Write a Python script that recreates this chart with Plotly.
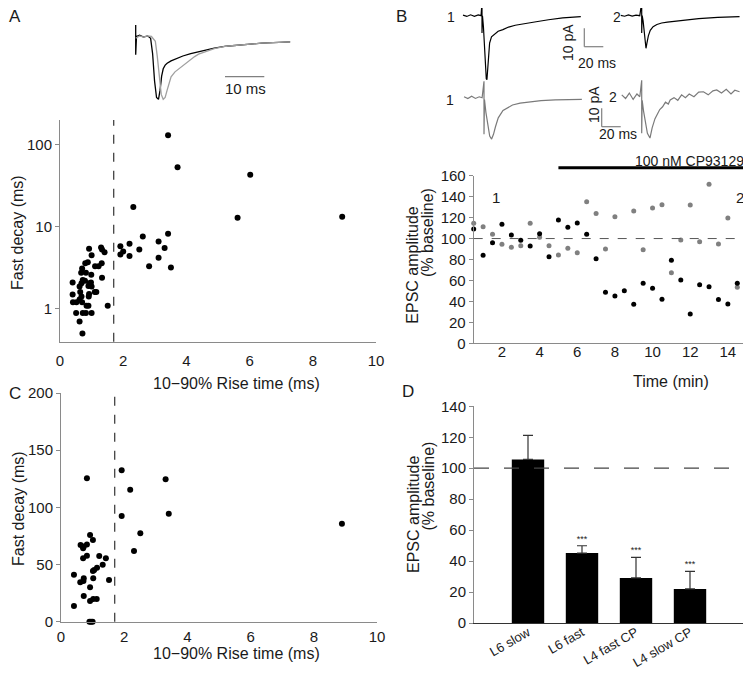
import plotly.graph_objects as go

# the page body adds an 8 px margin; work in page pixels and shift into the figure
OFF = 8
W, H = 751 - OFF, 676 - OFF
FONT = "Liberation Sans, Arial, sans-serif"
INK = "#1a1a1a"
AXC = "#8a8a8a"
GREY = "#808080"

# ---------------- data ----------------
# A: rise time vs fast decay (log scale)
a_rise = [3.42, 3.72, 6.02, 5.62, 8.93, 2.32, 3.42, 2.62, 3.12, 2.2, 1.91, 3.31, 2.51, 2.0,
          1.91, 2.2, 3.12, 2.82, 3.51,
          0.92, 1.30, 1.33, 1.41, 1.0, 1.32, 1.11, 1.22, 0.88, 0.8, 0.70, 0.67, 0.82, 0.99,
          1.33, 0.72, 0.79, 0.68, 0.4, 0.93, 0.98, 0.62, 0.9, 1.0, 1.1, 1.15, 0.92, 0.4,
          0.64, 0.68, 0.91, 0.62, 0.52, 0.41, 0.7, 0.84, 0.9, 1.51, 0.51, 0.72, 0.82, 1.0,
          0.62, 0.71]
a_decay = [130, 53, 43, 12.9, 13.2, 17.4, 8.2, 7.6, 6.6, 6.2, 5.8, 5.5, 5.3, 5.0,
           4.6, 4.4, 4.2, 3.3, 3.2,
           5.4, 5.6, 5.3, 4.9, 4.5, 3.6, 3.3, 3.3, 3.7, 3.6, 3.1, 2.76, 2.76, 2.6,
           2.4, 2.25, 2.2, 2.05, 2.1, 2.05, 2.1, 1.87, 1.9, 1.87, 1.6, 1.6, 1.52, 1.5,
           1.6, 1.41, 1.41, 1.3, 1.2, 1.2, 1.2, 1.09, 1.09, 1.09, 0.89, 0.89, 0.89, 0.89,
           0.70, 0.50]
rise_cut = 1.7

# A inset: averaged EPSCs (normalised), time in ms
a_fast_t = [0, 0, 0.2, 1, 2, 3, 3.8, 4.3, 4.8, 5.3, 5.8, 6.2, 6.6, 7, 7.5, 8, 9, 10, 11, 12,
            14, 16, 18, 20, 23, 26, 29, 32, 35, 39.3]
a_fast_y = [0.22, -0.27, 0.03, 0.05, 0.02, 0.04, 0.0, -0.25, -0.7, -0.97, -1.0, -0.85, -0.62,
            -0.5, -0.44, -0.41, -0.37, -0.34, -0.31, -0.29, -0.25, -0.22, -0.19, -0.16, -0.13,
            -0.11, -0.09, -0.08, -0.07, -0.06]
a_slow_t = [0, 1, 2, 3, 4, 5, 5.5, 6, 6.5, 7, 7.5, 8, 8.5, 9, 10, 11, 12, 13, 14, 15, 16, 18,
            20, 23, 26, 29, 32, 35, 39.3]
a_slow_y = [0.0, 0.04, 0.02, 0.04, 0.03, -0.05, -0.3, -0.65, -0.92, -1.0, -0.97, -0.85, -0.72,
            -0.63, -0.55, -0.5, -0.44, -0.39, -0.34, -0.3, -0.26, -0.21, -0.17, -0.13, -0.11,
            -0.09, -0.08, -0.07, -0.06]

# B: example EPSC traces (ms, pA)
b1_fast_t = [-20, -16, -12, -8, -4, -1, 0, 0, 0.5, 1.5, 2.5, 3.5, 4.5, 5.2, 6, 7, 8, 10, 13,
             17, 22, 28, 35, 45, 57, 70, 85, 104]
b1_fast_y = [0.3, -0.4, 0.5, -0.3, 0.4, 0, 7.3, -9.5, 0, -6, -18, -29, -34.5, -35, -28, -20,
             -15, -11.5, -10, -8.5, -7.6, -6.2, -5.2, -4.2, -3.3, -2.2, -1.2, -0.5]
b2_fast_t = [-22, -18, -14, -10, -6, -2, 0, 0, 0.5, 1.5, 2.5, 3.5, 4.5, 5.5, 7, 9, 12, 16, 21,
             27, 35, 45, 60, 80, 103]
b2_fast_y = [0.2, -0.3, 0.4, -0.2, 0.3, 0, 7.3, -9.5, 0, -3, -9, -15, -17.8, -15, -11, -8,
             -6, -4.8, -4, -3.5, -3, -2.5, -1.6, -0.9, -0.5]
b1_slow_t = [-21, -17, -13, -9, -5, -2, 0, 0, 0.5, 2, 4, 6, 8, 10, 12, 15, 20, 25, 30, 38, 48,
             60, 75, 90, 103]
b1_slow_y = [0.5, -0.5, 0.8, -0.4, 0.5, 0, 9, -20, -1, -8, -16, -21, -22.6, -20, -16, -11,
             -7, -5.3, -4, -3, -2.2, -1.6, -1.2, -1, -0.9]
b2_slow_t = [-21, -17, -13, -9, -5, -2, 0, 0, 0.5, 2, 4, 6, 8.7, 11, 14, 17, 19, 22, 25, 28,
             30, 34, 38, 42, 46, 50, 55, 60, 65, 70, 75, 79, 84, 89, 94, 98, 103]
b2_slow_y = [1, -1, 2, -1.5, 1.5, 0, 9, -20, -2, -8, -15, -20, -22.6, -17, -12, -9, -7, -5.5,
             -3, -4, -1.8, -0.5, -2, 1, -0.5, 1.5, 0, 2.5, 2.7, 1, 3.2, 3.7, 2, 4, 1.5, 3.5, 2.7]

# B: time course of EPSC amplitude
b_time = [0.5, 1, 1.5, 2, 2.5, 3, 3.5, 4, 4.5, 5, 5.5, 6, 6.5, 7, 7.5, 8, 8.5, 9, 9.5, 10,
          10.5, 11, 11.5, 12, 12.5, 13, 13.5, 14, 14.5, 15]
b_fast = [109, 84, 96, 113.6, 103.4, 98.3, 92.9, 104.6, 82.7, 117.7, 110.7, 114.8, 104, 80.8,
          48.7, 45.2, 50.2, 37.2, 57.3, 52.5, 42, 79.2, 60.4, 28, 56, 54, 41.7, 37.5, 57.3, 41.7]
b_slow = [114.5, 111.3, 104, 94.5, 91.6, 93.2, 114.5, 101.2, 93.2, 84.3, 90.7, 86.5, 135.2,
          124, 90, 120.9, 161.3, 126.3, 89.4, 129.2, 132.3, 67.4, 98.6, 132, 97, 151.8, 94.8,
          119.6, 53.5, 114.2]
drug_on, drug_off = 5.0, 14.85

# C: rise time vs fast decay (linear)
c_rise = [0.82, 1.92, 3.31, 2.19, 1.92, 3.41, 8.89, 2.51, 2.31, 0.92, 1.01, 0.62, 0.7, 0.82,
          0.72, 0.82, 0.7, 1.21, 1.42, 1.32, 1.14, 1.05, 1.01, 0.41, 0.72, 1.02, 0.71, 0.61,
          1.52, 0.92, 0.72, 1.13, 1.02, 0.92, 0.41, 0.9, 0.95, 1.0]
c_decay = [125.4, 132.4, 124.6, 115.5, 92.5, 94.5, 85.7, 77.3, 61.9, 75.9, 71.5, 67.1, 64.2,
           67.5, 65.8, 57.7, 55.4, 57.4, 55.4, 49.9, 47.2, 45.2, 44.3, 41.1, 37.9, 37.9, 35.6,
           34.4, 36.4, 30.1, 22.5, 19.9, 19.9, 18.1, 13.7, 0, 0, 0]

# D: summary
d_labels = ["L6 slow", "L6 fast", "L4 fast CP", "L4 slow CP"]
d_mean = [105.7, 45.2, 29.1, 22.0]
d_sem = [15.5, 4.7, 13.3, 11.4]
d_sig = ["", "***", "***", "***"]


# ---------------- helpers (page pixels -> paper) ----------------
def px(x):
    return (x - OFF) / W


def py(y):
    return 1 - (y - OFF) / H


def dx(a, b):
    return [px(a), px(b)]


def dy(top, bottom):
    return [py(bottom), py(top)]


def trace_axes(xl, xr, t0, sx, top, bot, base, sy):
    xa = dict(domain=dx(xl, xr), range=[(xl - t0) / sx, (xr - t0) / sx], visible=False)
    ya = dict(domain=dy(top, bot), range=[-(bot - base) / sy, (base - top) / sy], visible=False)
    return xa, ya


tick_font = dict(family=FONT, size=15, color=INK)
base_ax = dict(showgrid=False, zeroline=False, showline=True, linecolor=AXC, linewidth=1,
               tickfont=tick_font, ticks="outside", tickcolor=AXC, ticklen=4,
               automargin=False)

fig = go.Figure()

# A scatter
fig.add_trace(go.Scatter(x=a_rise, y=a_decay, mode="markers", xaxis="x", yaxis="y",
                         marker=dict(color="black", size=6), cliponaxis=False))
# C scatter
fig.add_trace(go.Scatter(x=c_rise, y=c_decay, mode="markers", xaxis="x2", yaxis="y2",
                         marker=dict(color="black", size=6), cliponaxis=False))
# B time course
fig.add_trace(go.Scatter(x=b_time, y=b_slow, mode="markers", xaxis="x3", yaxis="y3",
                         marker=dict(color=GREY, size=5), cliponaxis=False))
fig.add_trace(go.Scatter(x=b_time, y=b_fast, mode="markers", xaxis="x3", yaxis="y3",
                         marker=dict(color="black", size=5), cliponaxis=False))
# D bars
fig.add_trace(go.Bar(x=d_labels, y=d_mean, xaxis="x4", yaxis="y4", width=0.6,
                     marker=dict(color="black", line=dict(width=0)),
                     error_y=dict(type="data", array=d_sem, arrayminus=[0] * len(d_sem),
                                  symmetric=False, color="#333", thickness=1.2, width=5)))
fig.add_trace(go.Scatter(x=d_labels, y=[m + s + 4 for m, s in zip(d_mean, d_sem)],
                         text=d_sig, mode="text", xaxis="x4", yaxis="y4",
                         textfont=dict(family=FONT, size=9, color=INK), cliponaxis=False))
# A inset traces
fig.add_trace(go.Scatter(x=a_fast_t, y=a_fast_y, mode="lines", xaxis="x5", yaxis="y5",
                         line=dict(color="black", width=1.3)))
fig.add_trace(go.Scatter(x=a_slow_t, y=a_slow_y, mode="lines", xaxis="x5", yaxis="y5",
                         line=dict(color="#a0a0a0", width=1.3)))
# B traces
for xa, ya, t, v, c in [("x6", "y6", b1_fast_t, b1_fast_y, "black"),
                        ("x7", "y7", b2_fast_t, b2_fast_y, "black"),
                        ("x8", "y8", b1_slow_t, b1_slow_y, "#7a7a7a"),
                        ("x9", "y9", b2_slow_t, b2_slow_y, "#7a7a7a")]:
    fig.add_trace(go.Scatter(x=t, y=v, mode="lines", xaxis=xa, yaxis=ya,
                             line=dict(color=c, width=1.2), cliponaxis=False))

x5, y5 = trace_axes(130, 295, 135.7, 3.93, 20, 105, 38.3, 61)
x6, y6 = trace_axes(455, 585, 482, 0.95, 8, 85, 15.7, 1.83)
x7, y7 = trace_axes(615, 745, 641.7, 0.95, 8, 85, 15.7, 1.83)
x8, y8 = trace_axes(455, 590, 484, 0.95, 75, 145, 97.7, 1.83)
x9, y9 = trace_axes(615, 745, 641.7, 0.95, 75, 145, 96.7, 1.83)

fig.update_layout(
    width=W, height=H, autosize=False, showlegend=False,
    margin=dict(l=0, r=0, t=0, b=0, autoexpand=False),
    paper_bgcolor="white", plot_bgcolor="rgba(0,0,0,0)",
    font=dict(family=FONT, size=15, color=INK),
    xaxis=dict(base_ax, domain=dx(60, 376), range=[0, 10], dtick=2, anchor="y", ticks="",
               ticklabelstandoff=5),
    yaxis=dict(base_ax, domain=dy(120, 341.7), type="log", range=[-0.4, 2.3],
               tickvals=[1, 10, 100], ticktext=["1", "10", "100"], anchor="x"),
    xaxis2=dict(base_ax, domain=dx(61, 377), range=[0, 10], dtick=2, anchor="y2", ticks="",
                ticklabelstandoff=1),
    yaxis2=dict(base_ax, domain=dy(393, 621.7), range=[0, 200], dtick=50, anchor="x2"),
    xaxis3=dict(base_ax, domain=dx(473.7, 746.7), range=[0.5, 15], tick0=0, dtick=2,
                anchor="y3", ticks="", ticklabelstandoff=-5),
    yaxis3=dict(base_ax, domain=dy(175.7, 343.3), range=[0, 160], dtick=20, anchor="x3"),
    xaxis4=dict(base_ax, domain=dx(474, 746.7), range=[-1.0, 4.05], anchor="y4", ticks="",
                tickangle=-30, linecolor="#333", ticklabelstandoff=-4,
                tickfont=dict(family=FONT, size=13, color=INK)),
    yaxis4=dict(base_ax, domain=dy(406.3, 623), range=[0, 140], dtick=20, anchor="x4"),
    xaxis5=dict(x5, anchor="y5"), yaxis5=dict(y5, anchor="x5"),
    xaxis6=dict(x6, anchor="y6"), yaxis6=dict(y6, anchor="x6"),
    xaxis7=dict(x7, anchor="y7"), yaxis7=dict(y7, anchor="x7"),
    xaxis8=dict(x8, anchor="y8"), yaxis8=dict(y8, anchor="x8"),
    xaxis9=dict(x9, anchor="y9"), yaxis9=dict(y9, anchor="x9"),
)

shapes = [
    # rise-time cut-off lines
    dict(type="line", xref="x", yref="y domain", x0=rise_cut, x1=rise_cut, y0=0, y1=1,
         line=dict(color="#333", width=1.2, dash="dash")),
    dict(type="line", xref="x2", yref="y2 domain", x0=rise_cut, x1=rise_cut, y0=0, y1=1,
         line=dict(color="#333", width=1.2, dash="dash")),
    # baselines
    dict(type="line", xref="x3 domain", yref="y3", x0=0, x1=1, y0=100, y1=100,
         line=dict(color="#555", width=1, dash="dash")),
    dict(type="line", xref="x4 domain", yref="y4", x0=0, x1=1, y0=100, y1=100,
         line=dict(color="#444", width=1.2, dash="longdash")),
    # drug application bar
    dict(type="line", xref="x3", yref="paper", x0=drug_on, x1=drug_off, y0=py(167.7),
         y1=py(167.7), line=dict(color="black", width=3)),
    # scale bars
    dict(type="line", xref="paper", yref="paper", x0=px(225), x1=px(264.3), y0=py(76.7),
         y1=py(76.7), line=dict(color=GREY, width=1.2)),
    dict(type="line", xref="paper", yref="paper", x0=px(584.3), x1=px(584.3), y0=py(28.3),
         y1=py(46.7), line=dict(color=GREY, width=1.2)),
    dict(type="line", xref="paper", yref="paper", x0=px(584.3), x1=px(603.3), y0=py(46.7),
         y1=py(46.7), line=dict(color=GREY, width=1.2)),
    dict(type="line", xref="paper", yref="paper", x0=px(601.7), x1=px(601.7), y0=py(108.3),
         y1=py(126.7), line=dict(color=GREY, width=1.2)),
    dict(type="line", xref="paper", yref="paper", x0=px(601.7), x1=px(620.7), y0=py(126.7),
         y1=py(126.7), line=dict(color=GREY, width=1.2)),
]
fig.update_layout(shapes=shapes)


def note(text, x, y, size=16, angle=0):
    fig.add_annotation(text=text, x=px(x), y=py(y), xref="paper", yref="paper",
                       xanchor="center", yanchor="middle", showarrow=False,
                       textangle=angle, font=dict(family=FONT, size=size, color=INK))


# panel letters
note("A", 15, 17, size=17)
note("B", 401, 17, size=17)
note("C", 15, 394, size=17)
note("D", 408, 391, size=17)
# axis titles
note("10\u221290% Rise time (ms)", 236.7, 383.3)
note("10\u221290% Rise time (ms)", 236.7, 653.3)
note("Time (min)", 671, 381)
note("Fast decay (ms)", 18, 233, angle=-90)
note("Fast decay (ms)", 18, 509, angle=-90)
note("EPSC amplitude", 413, 265.7, angle=-90)
note("(% baseline)", 428, 233, angle=-90)
note("EPSC amplitude", 413, 515, angle=-90)
note("(% baseline)", 428, 486.5, angle=-90)
# trace labels
note("10 ms", 245, 88, size=15)
note("1", 451, 17, size=14)
note("2", 617, 17, size=14)
note("1", 450, 100, size=14)
note("2", 613, 97, size=14)
note("10 pA", 567.5, 42.5, size=14, angle=-90)
note("20 ms", 596.7, 63.3, size=14)
note("10 pA", 594, 105, size=14, angle=-90)
note("20 ms", 618, 134, size=14)
note("100 nM CP93129", 689, 161, size=14)
note("1", 496, 197, size=15)
note("2", 740, 197, size=15)

fig.write_html("out.html")
